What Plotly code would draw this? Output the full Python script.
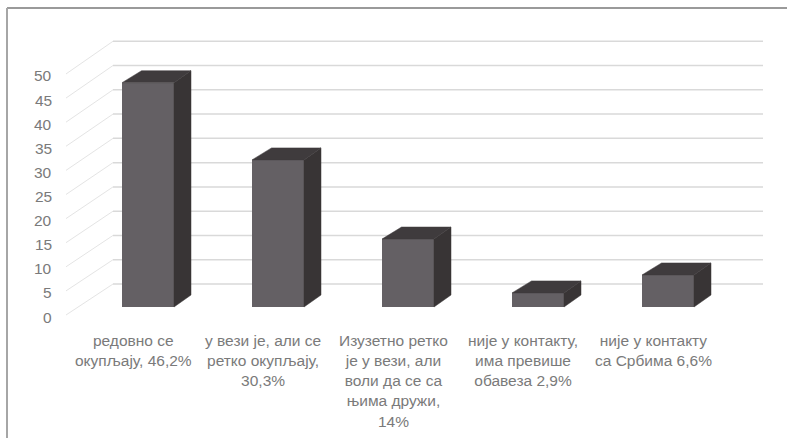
import plotly.graph_objects as go

# ---- data ----
categories = [
    "редовно се<br>окупљају, 46,2%",
    "у вези је, али се<br>ретко окупљају,<br>30,3%",
    "Изузетно ретко<br>је у вези, али<br>воли да се са<br>њима дружи,<br>14%",
    "није у контакту,<br>има превише<br>обавеза 2,9%",
    "није у контакту<br>са Србима 6,6%",
]
values = [46.2, 30.3, 14.0, 2.9, 6.6]
ticks = [0, 5, 10, 15, 20, 25, 30, 35, 40, 45, 50]

# ---- geometry (pixel mapping of the pseudo-3D chart) ----
W, H = 787, 438
X0, XSTEP = 148.0, 130.0      # px of first category, px per category
Y0, YSCALE = 307.0, 4.855     # px of value 0 on bar front plane, px per unit

def px2x(p):
    return (p - X0) / XSTEP

def px2dy(p):
    return p / YSCALE

bar_w = 52 / XSTEP
dx = 17 / XSTEP
dy = px2dy(12)
back_off = px2dy(23)          # back wall is 23 px higher than the bar front plane
label_off = px2dy(-8)         # side-wall front edge (near tick labels)

FRONT = "#646064"
TOP = "#3f3b3d"
SIDE = "#383435"
GRID = "#d9d9d9"
TEXT = "#7a7a7a"
FONT = "Liberation Sans"
FS = 15.5

fig = go.Figure()

# front faces
idx = list(range(len(values)))
fig.add_trace(go.Bar(x=idx, y=values, width=bar_w, marker=dict(color=FRONT, line=dict(width=0)),
                     showlegend=False, hoverinfo="skip"))

# side and top faces
for i, v in zip(idx, values):
    l, r = i - bar_w / 2, i + bar_w / 2
    fig.add_trace(go.Scatter(
        x=[r, r, r + dx, r + dx, r], y=[0, v, v + dy, dy, 0],
        fill="toself", fillcolor=SIDE, mode="lines", line=dict(color=SIDE, width=0.5),
        hoverinfo="skip", showlegend=False))
    fig.add_trace(go.Scatter(
        x=[l, r, r + dx, l + dx * 1.15, l], y=[v, v, v + dy, v + dy, v],
        fill="toself", fillcolor=TOP, mode="lines", line=dict(color=TOP, width=0.5),
        hoverinfo="skip", showlegend=False))

shapes = []
# back wall gridlines and side wall diagonals (drawn below the bars)
for t in ticks:
    shapes.append(dict(type="line", xref="x", yref="y", layer="below",
                       x0=px2x(113), x1=px2x(763), y0=t + back_off, y1=t + back_off,
                       line=dict(color=GRID, width=1.5)))
    shapes.append(dict(type="line", xref="x", yref="y", layer="below",
                       x0=px2x(66), x1=px2x(113), y0=t * 0.993 + label_off, y1=t + back_off,
                       line=dict(color="#e4e4e4", width=1)))

# chart frame
shapes += [
    dict(type="line", xref="paper", yref="paper", x0=7 / W, x1=1, y0=1 - 8 / H, y1=1 - 8 / H,
         line=dict(color="#9a9a9a", width=2)),
    dict(type="line", xref="paper", yref="paper", x0=7 / W, x1=7 / W, y0=1 - 8 / H, y1=0,
         line=dict(color="#a6a6a6", width=2)),
]

annotations = []
# value-axis tick labels
for t in ticks:
    annotations.append(dict(x=px2x(54), y=t * 0.993 + px2dy(-10), xref="x", yref="y",
                            text=str(t), showarrow=False, xanchor="right", yanchor="middle",
                            font=dict(family=FONT, size=FS, color=TEXT)))
# category labels
for i, c in zip(idx, categories):
    annotations.append(dict(x=i, xshift=-15, y=1 - 330 / H, xref="x", yref="paper",
                            text=c, showarrow=False, xanchor="center", yanchor="top",
                            align="center",
                            font=dict(family=FONT, size=FS, color=TEXT)))

fig.update_layout(
    width=W, height=H,
    margin=dict(l=0, r=0, t=0, b=0),
    paper_bgcolor="white", plot_bgcolor="white",
    xaxis=dict(range=[px2x(0), px2x(W)], visible=False, fixedrange=True),
    yaxis=dict(range=[(Y0 - H) / YSCALE, Y0 / YSCALE], visible=False, fixedrange=True),
    annotations=annotations,
    shapes=shapes,
    bargap=0,
)

fig.write_html("out.html")
